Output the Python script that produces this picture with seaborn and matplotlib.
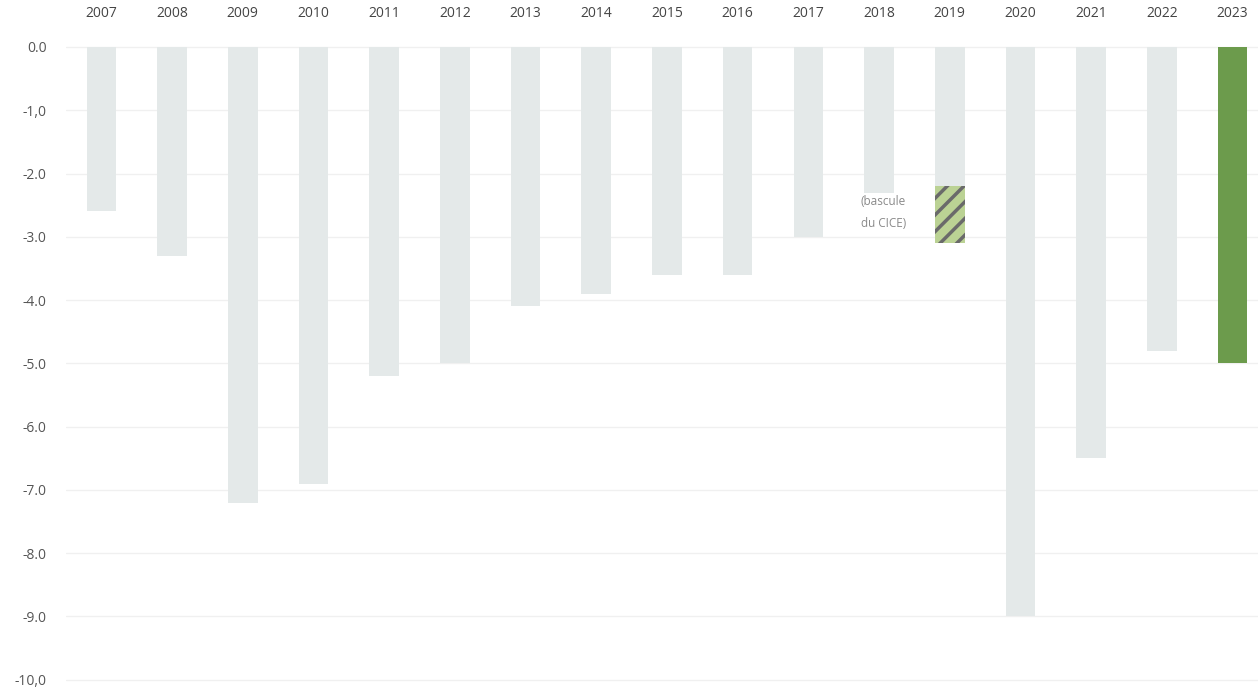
import numpy as np
import pandas as pd
import seaborn as sns
import matplotlib.pyplot as plt

# public deficit, % of GDP
years = [str(y) for y in range(2007, 2024)]
deficit = [-2.6, -3.3, -7.2, -6.9, -5.2, -5.0, -4.1, -3.9, -3.6, -3.6,
           -3.0, -2.3, -2.2, -9.0, -6.5, -4.8, -5.0]
# 2019 including the one-off CICE switch
cice_total = [np.nan] * 12 + [-3.1] + [np.nan] * 4
ytick_vals = [0, -1, -2, -3, -4, -5, -6, -7, -8, -9, -10]
ytick_labels = ["0.0", "-1,0", "-2.0", "-3.0", "-4.0", "-5.0", "-6.0",
                "-7.0", "-8.0", "-9.0", "-10,0"]

grey = "#e3eaea"
green = "#6aa83f"

sns.set_theme(style="white")
plt.rcParams["font.family"] = ["Open Sans", "DejaVu Sans"]
plt.rcParams["hatch.linewidth"] = 2.5

df = pd.DataFrame({"year": years, "deficit": deficit, "cice": cice_total})

fig = plt.figure(figsize=(12.58, 6.88), dpi=100)
ax = fig.add_axes([66 / 1258, 0, 1 - 66 / 1258, 1 - 40 / 688])

# hatched part first, then the regular bars on top of it
sns.barplot(data=df, x="year", y="cice", order=years, color="#bddc8a",
            width=0.42, ax=ax)
for p in ax.patches:
    p.set_hatch("//")
    p.set_edgecolor("#6a6a6a")
    p.set_linewidth(0)
n_hatch = len(ax.patches)

palette = {y: (green if y == "2023" else grey) for y in years}
sns.barplot(data=df, x="year", y="deficit", order=years, hue="year",
            palette=palette, width=0.42, legend=False, ax=ax)
for p in ax.patches[n_hatch:]:
    p.set_linewidth(0)

ax.text(11.38, -2.62, "(bascule\ndu CICE)", ha="right", va="center",
        fontsize=8.5, color="#8a8a8a", linespacing=1.9)

ax.set_ylim(-10.13, 0.11)
ax.set_xlim(-0.5, 16.36)
ax.set_yticks(ytick_vals)
ax.set_yticklabels(ytick_labels)
ax.yaxis.grid(True, color="#f0f0f0", linewidth=1)
ax.set_axisbelow(True)
ax.xaxis.tick_top()
ax.tick_params(axis="x", length=0, pad=14, labelsize=10, labelcolor="#444444")
ax.tick_params(axis="y", length=0, pad=14, labelsize=10, labelcolor="#555555")
ax.set_xlabel("")
ax.set_ylabel("")
sns.despine(ax=ax, left=True, bottom=True, top=True, right=True)

fig.savefig("out.png", dpi=100)
